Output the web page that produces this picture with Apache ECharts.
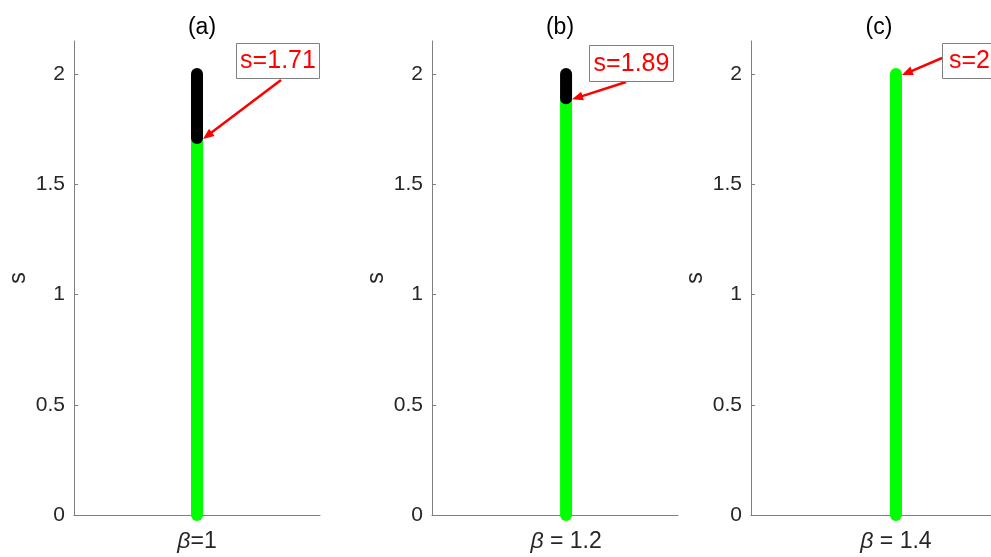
<!DOCTYPE html>
<html>
<head>
<meta charset="utf-8">
<script src="https://cdn.jsdelivr.net/npm/echarts@6/dist/echarts.min.js"></script>
<style>
html,body{margin:0;padding:0;background:#fff;}
#main{width:991px;height:557px;}
</style>
</head>
<body>
<div id="main"></div>
<script>
// ---- data ----
const panelTitles = ['(a)', '(b)', '(c)'];
const betas = [1, 1.2, 1.4];
const xTickLabels = ['{i|\u03b2}=1', '{i|\u03b2} = 1.2', '{i|\u03b2} = 1.4'];
const thresholds = [1.71, 1.89, 2];
const sTop = 2;
const yTicks = [0, 0.5, 1, 1.5, 2];
const yMax = 2.15;
const xLimits = [[0.5, 1.5], [0.655, 1.655], [0.796, 1.796]];

// ---- layout (pixels) ----
const gridLefts = [74, 432, 751];
const gridWidths = [246, 246, 240];
const gridTop = 41, gridHeight = 474;
const annoBoxes = [
  {x: 236, y: 43, w: 83, h: 35},
  {x: 589, y: 45, w: 84, h: 36},
  {x: 942, y: 43, w: 54, h: 35}
];
const annoTails = [[281, 80], [626, 82], [942, 58]];

const FONT = '"Liberation Sans", Arial, Helvetica, sans-serif';
const axisColor = '#7f7f7f';
const labelColor = '#262626';

const chart = echarts.init(document.getElementById('main'), null, {renderer: 'canvas'});

const grids = [], xAxes = [], yAxes = [], series = [], titles = [];
for (let i = 0; i < 3; i++) {
  grids.push({left: gridLefts[i], top: gridTop, width: gridWidths[i], height: gridHeight, containLabel: false});
  titles.push({
    text: panelTitles[i], left: gridLefts[i] + 123, top: 11, textAlign: 'center',
    textStyle: {fontFamily: FONT, fontSize: 23, fontWeight: 'normal', color: '#000'}
  });
  xAxes.push({
    type: 'value', gridIndex: i, min: xLimits[i][0], max: xLimits[i][1],
    axisLine: {show: true, onZero: false, lineStyle: {color: axisColor, width: 1}},
    axisTick: {show: false},
    splitLine: {show: false},
    axisLabel: {
      customValues: [betas[i]],
      formatter: () => xTickLabels[i],
      margin: 15,
      color: labelColor, fontFamily: FONT, fontSize: 23,
      rich: {i: {fontStyle: 'italic', fontFamily: FONT, fontSize: 23, color: labelColor}}
    }
  });
  yAxes.push({
    type: 'value', gridIndex: i, min: 0, max: yMax,
    name: 's', nameLocation: 'middle', nameGap: 44, nameRotate: 90,
    nameTextStyle: {fontFamily: FONT, fontSize: 23, color: labelColor},
    axisLine: {show: true, lineStyle: {color: axisColor, width: 1}},
    axisTick: {show: true, inside: true, length: 4, customValues: yTicks, lineStyle: {color: axisColor}},
    splitLine: {show: false},
    axisLabel: {customValues: yTicks, margin: 9, color: labelColor, fontFamily: FONT, fontSize: 21}
  });
  series.push({
    type: 'line', xAxisIndex: i, yAxisIndex: i, symbol: 'none', clip: false, silent: true, z: 3,
    lineStyle: {color: '#00ff00', width: 12, cap: 'round'},
    data: [[betas[i], 0], [betas[i], thresholds[i]]]
  });
  if (thresholds[i] < sTop) {
    series.push({
      type: 'line', xAxisIndex: i, yAxisIndex: i, symbol: 'none', clip: false, silent: true, z: 4,
      lineStyle: {color: '#000000', width: 12, cap: 'round'},
      data: [[betas[i], thresholds[i]], [betas[i], sTop]]
    });
  }
}

chart.setOption({
  animation: false,
  backgroundColor: '#ffffff',
  title: titles,
  grid: grids,
  xAxis: xAxes,
  yAxis: yAxes,
  series: series
});

// ---- text arrows ----
const graphics = [];
for (let i = 0; i < 3; i++) {
  const p = chart.convertToPixel({gridIndex: i}, [betas[i], thresholds[i]]);
  const head = [p[0] + 6, p[1] + 1];
  const tail = annoTails[i];
  const dx = head[0] - tail[0], dy = head[1] - tail[1];
  const len = Math.sqrt(dx * dx + dy * dy);
  const ux = dx / len, uy = dy / len;
  const hl = 11, hw = 4.5;
  const base = [head[0] - ux * hl, head[1] - uy * hl];
  graphics.push({
    type: 'line', silent: true, z: 10,
    shape: {x1: tail[0], y1: tail[1], x2: base[0] + ux * 2, y2: base[1] + uy * 2},
    style: {stroke: '#ff0000', lineWidth: 2.5}
  });
  graphics.push({
    type: 'polygon', silent: true, z: 10,
    shape: {points: [head, [base[0] - uy * hw, base[1] + ux * hw], [base[0] + uy * hw, base[1] - ux * hw]]},
    style: {fill: '#ff0000'}
  });
  const b = annoBoxes[i];
  graphics.push({
    type: 'rect', silent: true, z: 11,
    shape: {x: b.x + 0.5, y: b.y + 0.5, width: b.w, height: b.h},
    style: {fill: '#ffffff', stroke: '#808080', lineWidth: 1}
  });
  graphics.push({
    type: 'text', silent: true, z: 12,
    x: b.x + b.w / 2 + 0.5, y: b.y + b.h / 2 + 1,
    style: {text: 's=' + thresholds[i], fill: '#ff0000', font: '25px ' + FONT, align: 'center', verticalAlign: 'middle'}
  });
}
chart.setOption({graphic: graphics});
</script>
</body>
</html>
